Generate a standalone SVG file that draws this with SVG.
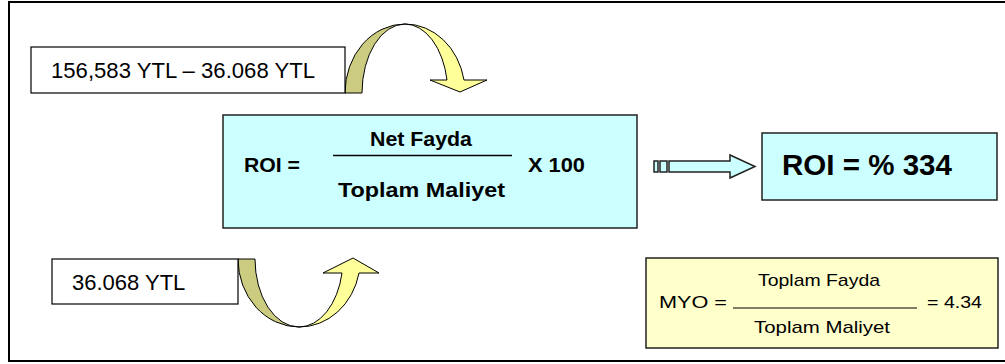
<svg xmlns="http://www.w3.org/2000/svg" width="1005" height="364" viewBox="0 0 1005 364">
<style>
.t{font-family:"Liberation Sans",Arial,sans-serif;fill:#000}
.b{font-weight:bold}
.box{stroke:#000;stroke-width:1.2}
.cyan{fill:#ccffff;stroke:#222;stroke-width:1.5}
.dark{fill:#cccc80;stroke:#000;stroke-width:1}
.light{fill:#ffff99;stroke:#000;stroke-width:1}
</style>
<rect x="0" y="0" width="1005" height="364" fill="#fff"/>
<rect x="9" y="2" width="1010" height="359" fill="#fff" stroke="#000" stroke-width="2"/>
<g id="connectors">
  <g id="arrow-top">
    <path class="dark" d="M345,93 A60,69 0 0 1 405,24 A43,69 0 0 0 362,93 Z"/>
    <path class="light" d="M405,24 A60,69 0 0 1 464,80 L487,80 L460,92 L430,80 L447,80 A43,69 0 0 0 405,24 Z"/>
  </g>
  <g id="arrow-bottom">
    <path class="dark" d="M238,259 A61,68 0 0 0 299,327 A44,68 0 0 1 255,259 Z"/>
    <path class="light" d="M299,327 A61,68 0 0 0 359,273 L379,273 L353,258 L323,273 L342,273 A44,68 0 0 1 299,327 Z"/>
  </g>
  <g id="arrow-right">
    <rect x="654" y="161" width="4" height="11" class="cyan"/>
    <rect x="660" y="161" width="7" height="11" class="cyan"/>
    <path class="cyan" d="M669,161 L730,161 L730,155 L755,166.5 L730,178 L730,172 L669,172 Z"/>
  </g>
</g>
<g id="node-net">
  <rect class="box" x="31" y="47" width="314" height="46" fill="#fff"/>
  <text class="t" x="51" y="78" font-size="22" textLength="264" lengthAdjust="spacingAndGlyphs">156,583 YTL – 36.068 YTL</text>
</g>
<g id="node-cost">
  <rect class="box" x="52" y="259" width="186" height="45" fill="#fff"/>
  <text class="t" x="72" y="290" font-size="22">36.068 YTL</text>
</g>
<g id="node-roi-formula">
  <rect class="cyan" x="223" y="115" width="414" height="113"/>
  <text class="t b" x="244" y="172" font-size="20" textLength="56" lengthAdjust="spacingAndGlyphs">ROI =</text>
  <text class="t b" x="370" y="146" font-size="20" textLength="102" lengthAdjust="spacingAndGlyphs">Net Fayda</text>
  <line x1="333" y1="155.5" x2="512" y2="155.5" stroke="#000" stroke-width="1.5"/>
  <text class="t b" x="338" y="197" font-size="20" textLength="167" lengthAdjust="spacingAndGlyphs">Toplam Maliyet</text>
  <text class="t b" x="528" y="172" font-size="20" textLength="57" lengthAdjust="spacingAndGlyphs">X 100</text>
</g>
<g id="node-roi-result">
  <rect class="cyan" x="762" y="133" width="235" height="67"/>
  <text class="t b" x="782" y="175" font-size="29" textLength="170" lengthAdjust="spacingAndGlyphs">ROI = % 334</text>
</g>
<g id="node-myo">
  <rect x="646" y="258" width="352" height="90" fill="#ffffcc" stroke="#222" stroke-width="1.5"/>
  <text class="t" x="758" y="286" font-size="17" textLength="122" lengthAdjust="spacingAndGlyphs">Toplam Fayda</text>
  <text class="t" x="659" y="308" font-size="17" textLength="68" lengthAdjust="spacingAndGlyphs">MYO =</text>
  <line x1="733" y1="308" x2="917" y2="308" stroke="#000" stroke-width="1.2"/>
  <text class="t" x="927" y="308" font-size="17" textLength="55" lengthAdjust="spacingAndGlyphs">= 4.34</text>
  <text class="t" x="754" y="333" font-size="17" textLength="136" lengthAdjust="spacingAndGlyphs">Toplam Maliyet</text>
</g>
</svg>
